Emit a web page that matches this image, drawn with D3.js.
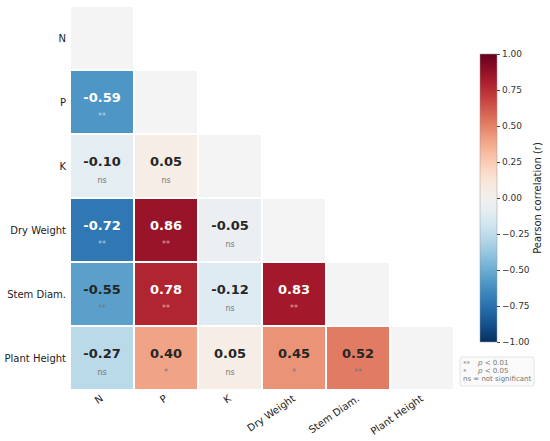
<!DOCTYPE html>
<html><head><meta charset="utf-8">
<script src="https://cdn.jsdelivr.net/npm/d3@7"></script>
<style>body{margin:0;background:#fff;} svg{display:block;font-family:"DejaVu Sans",sans-serif;}</style>
</head><body>
<svg id="c" width="550" height="441"></svg>
<script>
const variables = ["N","P","K","Dry Weight","Stem Diam.","Plant Height"];
// lower-triangle correlations, row i, columns 0..i-1
const correlations = [
  [],
  [-0.59],
  [-0.10, 0.05],
  [-0.72, 0.86, -0.05],
  [-0.55, 0.78, -0.12, 0.83],
  [-0.27, 0.40, 0.05, 0.45, 0.52]
];
const significance = [
  [],
  ["**"],
  ["ns","ns"],
  ["**","**","ns"],
  ["**","**","ns","**"],
  ["ns","*","ns","*","**"]
];
const colorbarTicks = [1.00,0.75,0.50,0.25,0.00,-0.25,-0.50,-0.75,-1.00];
const legendLines = [["**","p < 0.01"],["*","p < 0.05"],["","ns = not significant"]];

const svg = d3.select("#c");
const x = d3.scaleBand().domain(variables).range([70,454]).paddingInner(0);
const y = d3.scaleBand().domain(variables).range([6,390]);
const color = v => d3.interpolateRdBu((1 - v) / 2);
const gap = 1;

const cells = [];
variables.forEach((rv,i)=>{
  correlations[i].forEach((v,j)=>cells.push({row:rv,col:variables[j],v,sig:significance[i][j]}));
});

// diagonal
svg.selectAll("rect.diag").data(variables).join("rect").attr("class","diag")
  .attr("x",d=>x(d)+gap).attr("y",d=>y(d)+gap)
  .attr("width",x.bandwidth()-2*gap).attr("height",y.bandwidth()-2*gap)
  .attr("fill","#f4f4f4");

const g = svg.selectAll("g.cell").data(cells).join("g").attr("class","cell");
g.append("rect")
  .attr("x",d=>x(d.col)+gap).attr("y",d=>y(d.row)+gap)
  .attr("width",x.bandwidth()-2*gap).attr("height",y.bandwidth()-2*gap)
  .attr("fill",d=>color(d.v));
g.append("text")
  .attr("x",d=>x(d.col)+x.bandwidth()/2).attr("y",d=>y(d.row)+y.bandwidth()/2)
  .attr("text-anchor","middle").attr("font-size",13).attr("font-weight","bold")
  .attr("fill",d=>Math.abs(d.v)>0.57?"#ffffff":"#262626")
  .text(d=>d.v.toFixed(2));
g.append("text")
  .attr("x",d=>x(d.col)+x.bandwidth()/2).attr("y",d=>y(d.row)+y.bandwidth()/2+17)
  .attr("text-anchor","middle").attr("font-size",8)
  .attr("fill",d=>Math.abs(d.v)>0.57?"rgba(255,255,255,0.6)":"#777")
  .text(d=>d.sig);

// y labels
svg.selectAll("text.yl").data(variables).join("text").attr("class","yl")
  .attr("x",66).attr("y",d=>y(d)+y.bandwidth()/2+4)
  .attr("text-anchor","end").attr("font-size",10).attr("fill","#222").text(d=>d);
// x labels
svg.selectAll("text.xl").data(variables).join("text").attr("class","xl")
  .attr("transform",d=>`translate(${x(d)+x.bandwidth()/2+2},400) rotate(-35)`)
  .attr("text-anchor","end").attr("font-size",10).attr("fill","#222").text(d=>d);

// colorbar
const cbX = 480, cbW = 17;
const cbY = d3.scaleLinear().domain([-1,1]).range([342,54]);
const defs = svg.append("defs");
const grad = defs.append("linearGradient").attr("id","cbg").attr("x1",0).attr("y1",1).attr("x2",0).attr("y2",0);
d3.range(0,1.0001,0.05).forEach(t=>grad.append("stop").attr("offset",t).attr("stop-color",color(-1+2*t)));
svg.append("rect").attr("x",cbX).attr("y",cbY(1)).attr("width",cbW).attr("height",cbY(-1)-cbY(1))
  .attr("fill","url(#cbg)").attr("stroke","#999").attr("stroke-width",0.5);
const ax = svg.append("g").attr("transform",`translate(${cbX+cbW},0)`)
  .call(d3.axisRight(cbY).tickValues(colorbarTicks).tickFormat(d3.format(".2f")).tickSize(3).tickPadding(2));
ax.select(".domain").remove();
ax.selectAll("line").attr("stroke","#444");
ax.selectAll("text").attr("font-size",9).attr("fill","#333").attr("font-family","DejaVu Sans, sans-serif");
svg.append("text").attr("transform",`translate(541,${cbY(0)}) rotate(-90)`)
  .attr("text-anchor","middle").attr("font-size",10).attr("fill","#222").text("Pearson correlation (r)");

// legend
svg.append("rect").attr("x",460).attr("y",357).attr("width",74).attr("height",29).attr("rx",2)
  .attr("fill","#fafafa").attr("stroke","#ddd").attr("stroke-width",0.8);
legendLines.forEach((l,i)=>{
  const yy = 365 + i*8;
  if(l[0]){
    svg.append("text").attr("x",463).attr("y",yy+1).attr("font-size",7).attr("fill","#888").text(l[0]);
    const t = svg.append("text").attr("x",478).attr("y",yy).attr("font-size",7).attr("fill","#777");
    t.append("tspan").attr("font-style","italic").text("p");
    t.append("tspan").text(l[1].slice(1));
  } else {
    svg.append("text").attr("x",463).attr("y",yy).attr("font-size",7).attr("fill","#777").text(l[1]);
  }
});
</script>
</body></html>
